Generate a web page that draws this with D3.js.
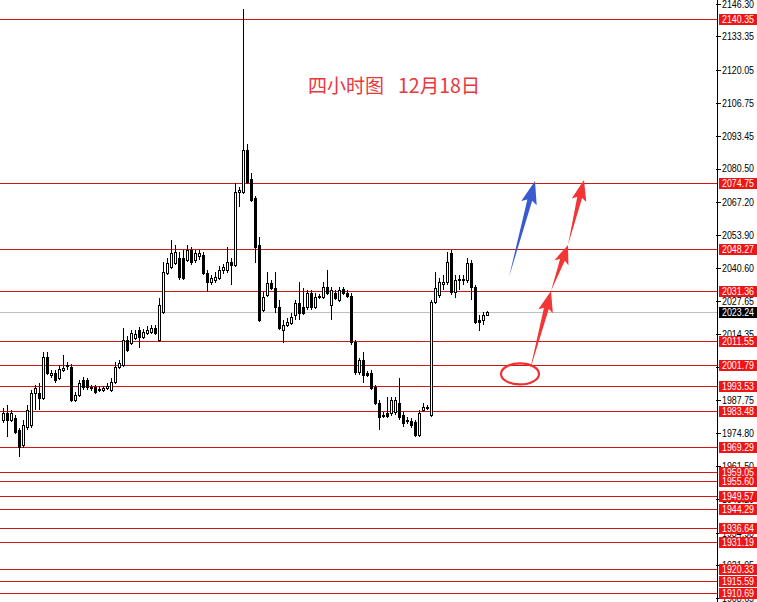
<!DOCTYPE html>
<html><head><meta charset="utf-8">
<script src="https://cdn.jsdelivr.net/npm/d3@7"></script>
<style>body{margin:0;background:#fff}svg{display:block}</style>
</head><body>
<svg id="c" width="757" height="602"></svg>
<script>
// ---- data (prices) ----
const openP = [1979.95,1982.75,1979.95,1980.75,1975.95,1969.95,1977.15,1977.95,1990.75,1990.75,
1988.75,2005.15,1997.95,1998.75,1996.75,1999.95,2001.55,2001.15,1987.95,1989.95,
1995.95,1995.95,1993.15,1993.15,1992.35,1991.95,1992.75,1991.95,1995.15,2001.15,
2001.95,2011.95,2010.75,2012.75,2015.95,2013.15,2014.75,2015.15,2016.75,2011.95,
2023.15,2038.75,2041.15,2042.75,2044.75,2044.75,2043.95,2047.95,2043.95,2045.55,
2045.95,2038.75,2035.15,2035.95,2036.75,2039.95,2039.95,2043.15,2041.95,2071.15,
2071.15,2087.95,2076.35,2068.75,2049.95,2023.95,2029.95,2034.75,2032.75,2025.15,
2015.95,2017.95,2018.75,2021.95,2026.75,2025.15,2025.15,2030.75,2025.15,2029.55,
2029.15,2033.15,2025.95,2030.75,2027.95,2032.35,2030.75,2029.55,2011.15,1999.15,
2003.95,1998.75,1998.75,1993.15,1986.75,1981.95,1982.75,1982.75,1983.15,1986.75,
1981.95,1979.95,1979.55,1979.15,1973.95,1983.95,1985.15,1981.95,2027.15,2029.95,
2034.35,2035.15,2046.75,2031.15,2035.95,2035.95,2035.95,2042.75,2033.15,2019.95,
2019.95,2021.95];
const highP = [1984.75,1985.95,1983.95,1981.95,1976.75,1979.95,1985.95,1991.95,1993.95,1994.75,
2007.15,2007.15,1999.95,1999.95,2001.95,2005.95,2003.15,2002.35,1991.15,1995.95,
1997.15,1996.75,1993.95,1993.95,1993.55,1993.55,1994.75,1996.75,2003.15,2003.95,
2016.75,2013.55,2015.95,2015.95,2017.15,2016.35,2017.55,2017.95,2017.95,2028.75,
2043.15,2044.75,2051.95,2049.95,2047.15,2047.95,2049.95,2049.15,2047.95,2047.95,
2047.15,2039.95,2037.95,2039.15,2041.55,2042.35,2049.15,2044.75,2074.75,2073.15,
2144.35,2090.35,2078.75,2069.55,2053.15,2031.15,2039.15,2035.95,2039.15,2027.95,
2019.95,2020.75,2022.75,2027.95,2035.15,2032.75,2031.95,2031.95,2030.75,2030.35,
2035.15,2039.95,2033.15,2031.95,2033.15,2033.15,2031.95,2030.75,2011.95,2004.75,
2007.15,1999.55,1999.95,1993.95,1987.95,1983.15,1989.15,1989.15,1989.15,1996.75,
1983.15,1981.15,1980.75,1979.95,1983.95,1986.75,1985.95,2027.95,2039.15,2036.75,
2037.95,2047.15,2047.95,2037.95,2037.95,2037.95,2044.75,2043.95,2033.95,2021.95,
2023.15,2023.55];
const lowP = [1978.75,1973.15,1979.15,1974.35,1965.15,1968.75,1975.95,1976.75,1983.95,1983.95,
1987.95,1997.95,1996.75,1994.75,1995.95,1999.15,1999.95,1987.15,1987.15,1989.15,
1991.95,1991.95,1991.55,1990.35,1991.15,1991.15,1991.95,1991.15,1994.35,2000.35,
2001.15,2007.15,2009.95,2011.95,2008.75,2012.35,2013.95,2014.35,2013.95,2011.15,
2022.35,2037.95,2040.35,2041.95,2035.95,2035.95,2043.15,2041.95,2042.75,2043.95,
2037.95,2031.15,2033.95,2034.75,2035.95,2038.35,2038.75,2033.95,2041.15,2065.15,
2070.35,2074.35,2067.15,2042.75,2019.15,2023.15,2029.15,2031.95,2022.75,2015.95,
2010.75,2017.15,2017.95,2019.95,2019.95,2021.95,2023.95,2023.95,2024.35,2028.35,
2028.35,2029.95,2019.95,2027.95,2027.15,2029.95,2028.75,2009.95,1997.95,1997.95,
1994.75,1997.15,1991.95,1985.95,1975.95,1980.75,1980.75,1981.55,1981.95,1979.95,
1977.15,1978.35,1976.75,1973.15,1973.15,1983.15,1983.95,1981.15,2026.35,2028.75,
2031.95,2033.95,2029.95,2028.75,2031.95,2033.95,2034.75,2027.95,2018.35,2015.55,
2017.95,2021.55];
const closeP = [1982.75,1979.95,1982.75,1975.15,1969.15,1977.95,1983.95,1990.75,1992.75,1988.75,
2005.15,1998.75,1998.75,1995.95,2000.35,2000.75,2001.95,1987.95,1989.95,1994.75,
1993.15,1993.15,1992.75,1991.15,1992.15,1992.75,1993.55,1995.15,2001.15,2002.75,
2011.95,2007.95,2014.75,2014.35,2013.15,2015.15,2015.95,2016.75,2014.75,2025.95,
2039.15,2042.75,2046.75,2047.15,2037.15,2036.75,2047.95,2043.15,2046.75,2046.75,
2038.75,2035.15,2036.75,2037.15,2039.95,2041.15,2043.15,2041.95,2071.15,2071.95,
2087.95,2075.15,2067.95,2049.15,2019.95,2029.15,2034.75,2032.75,2025.15,2016.75,
2017.95,2019.15,2021.15,2026.75,2022.75,2022.75,2030.75,2025.15,2029.15,2029.15,
2033.15,2030.75,2031.95,2028.75,2031.95,2030.75,2029.55,2011.15,1999.15,2003.95,
1997.95,1997.95,1992.75,1986.75,1981.15,1981.55,1981.55,1987.95,1987.95,1981.15,
1978.75,1979.55,1977.95,1973.95,1982.75,1985.15,1984.75,2027.15,2032.75,2035.15,
2035.15,2043.15,2031.15,2035.95,2036.35,2036.35,2042.75,2033.15,2019.15,2019.15,
2021.95,2023.24];
const levels = [2140.35,2074.75,2048.27,2031.36,2011.55,2001.79,1993.53,1983.48,1969.29,
1959.05,1955.60,1949.57,1944.29,1936.64,1931.19,1920.33,1915.59,1910.69];
const currentPrice = 2023.24;
const priceTicks = [2146.30,2133.35,2120.05,2106.75,2093.45,2080.50,2067.20,2053.90,2040.60,
2027.65,2014.35,2001.05,1987.75,1974.80,1961.50,1948.20,1934.90,1921.95,1908.65];
const titleText = "四小时图  12月18日";
// annotations in (bar index, price)
const blueArrows = [[126.5,2037.15,133,2075.55]];
const redArrows = [[131.75,1999.95,137,2031.55],[137,2031.55,141.25,2049.95],[141.25,2049.95,145.25,2075.95]];
const ellipseAt = [129.25,1998.35];

// ---- drawing ----
const W=757,H=602, axisX=717;
const svg=d3.select("#c");
const x=d3.scaleLinear().domain([0,121]).range([3,487]);
const y=d3.scaleLinear().domain([1907.15,2146.30]).range([602,4]);
const FONT="'Liberation Sans',Arial,sans-serif";

// current price line
svg.append("rect").attr("x",0).attr("width",axisX).attr("y",Math.round(y(currentPrice))).attr("height",1)
  .attr("fill","#c0c0c0").attr("shape-rendering","crispEdges");
// level lines
svg.selectAll("rect.lvl").data(levels).join("rect").attr("class","lvl")
  .attr("x",0).attr("width",axisX)
  .attr("y",d=>Math.round(y(d))).attr("height",1)
  .attr("fill","#d01818").attr("shape-rendering","crispEdges");

// candles
const idx=d3.range(openP.length);
const g=svg.append("g").attr("shape-rendering","crispEdges");
g.selectAll("line.wick").data(idx).join("line").attr("class","wick")
  .attr("x1",i=>Math.round(x(i))+0.5).attr("x2",i=>Math.round(x(i))+0.5)
  .attr("y1",i=>y(highP[i])).attr("y2",i=>y(lowP[i]))
  .attr("stroke","#000").attr("stroke-width",1);
g.selectAll("rect.body").data(idx).join("rect").attr("class","body")
  .attr("x",i=>Math.round(x(i))-1+0.5)
  .attr("width",2)
  .attr("y",i=>Math.round(y(Math.max(openP[i],closeP[i])))+0.5)
  .attr("height",i=>Math.max(0.01,Math.round(Math.abs(y(openP[i])-y(closeP[i])))))
  .attr("fill",i=>closeP[i]>=openP[i]?"#fff":"#000")
  .attr("stroke","#000").attr("stroke-width",1);

// title (two parts separated by the double space)
const tParts=titleText.split("  ");
const tt=svg.append("text").attr("y",93)
  .attr("font-family","'Noto Sans CJK SC','Noto Sans',sans-serif").attr("font-size",19)
  .attr("fill","#e8383d");
tt.append("tspan").attr("x",308).text(tParts[0]);
tt.append("tspan").attr("x",398).attr("font-size",19.5).text(tParts[1]);

// arrows
function arrowPts(x0,y0,x1,y1,headLen,hh,sh){
  const dx=x1-x0,dy=y1-y0,L=Math.hypot(dx,dy),ux=dx/L,uy=dy/L,nx=-uy,ny=ux;
  const bx=x1-ux*headLen,by=y1-uy*headLen;
  return [[x0,y0],[bx+nx*sh,by+ny*sh],[bx+nx*hh-ux*3,by+ny*hh-uy*3],[x1,y1],
          [bx-nx*hh-ux*3,by-ny*hh-uy*3],[bx-nx*sh,by-ny*sh]];
}
const line=d3.line();
svg.selectAll("path.blue").data(blueArrows).join("path").attr("class","blue")
  .attr("d",a=>line(arrowPts(x(a[0]),y(a[1]),x(a[2]),y(a[3]),20,8,2.5))+"Z")
  .attr("fill","#3a5bd0");
svg.selectAll("path.red").data(redArrows).join("path").attr("class","red")
  .attr("d",(a,k)=>line(arrowPts(x(a[0]),y(a[1]),x(a[2]),y(a[3]),k==1?16:18,7.5,2.5))+"Z")
  .attr("fill","#f23535");
svg.append("ellipse").attr("cx",x(ellipseAt[0])).attr("cy",y(ellipseAt[1]))
  .attr("rx",19).attr("ry",10.5).attr("fill","none").attr("stroke","#f03030").attr("stroke-width",2.2);

// axis
svg.append("rect").attr("x",axisX+1).attr("y",0).attr("width",W-axisX).attr("height",H).attr("fill","#fff");
svg.append("rect").attr("x",axisX).attr("y",0).attr("width",1).attr("height",H).attr("fill","#000").attr("shape-rendering","crispEdges");
const ax=svg.append("g");
ax.selectAll("rect").data(priceTicks).join("rect")
  .attr("x",axisX-1).attr("width",5)
  .attr("y",d=>Math.round(y(d))).attr("height",1).attr("fill","#000").attr("shape-rendering","crispEdges");
function labelText(sel){
  sel.attr("font-family",FONT).attr("font-size",11)
    .attr("textLength",32).attr("lengthAdjust","spacingAndGlyphs");
}
ax.selectAll("text").data(priceTicks).join("text")
  .attr("x",722).attr("y",d=>y(d)).attr("dy","0.36em").text(d=>d.toFixed(2))
  .attr("fill","#000").call(labelText);
// level labels
const lb=svg.selectAll("g.lb").data(levels).join("g").attr("class","lb");
lb.append("rect").attr("x",719).attr("y",d=>Math.round(y(d))-5).attr("width",38).attr("height",11).attr("fill","#f01414");
lb.append("text").attr("x",722).attr("y",d=>y(d)).attr("dy","0.36em").text(d=>d.toFixed(2))
  .attr("fill","#fff").call(labelText);
const cp=svg.append("g");
cp.append("rect").attr("x",719).attr("y",Math.round(y(currentPrice))-5).attr("width",38).attr("height",11).attr("fill","#000");
cp.append("text").attr("x",722).attr("y",y(currentPrice)).attr("dy","0.36em").text(currentPrice.toFixed(2))
  .attr("fill","#fff").call(labelText);
</script>
</body></html>
